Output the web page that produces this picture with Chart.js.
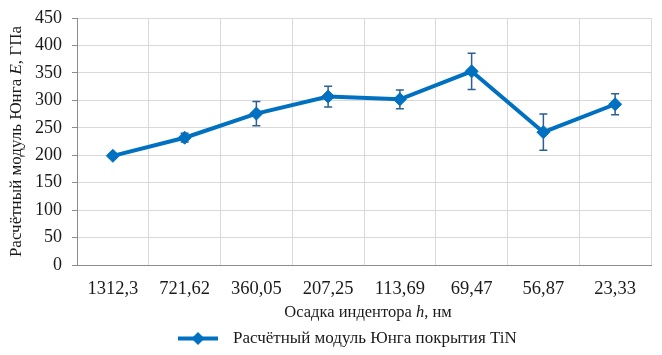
<!DOCTYPE html>
<html>
<head>
<meta charset="utf-8">
<script src="https://cdn.jsdelivr.net/npm/chart.js@4"></script>
<style>
    html, body { margin: 0; padding: 0; background: #fff; }
    #wrap { width: 662px; height: 355px; }
</style>
</head>
<body>
<div id="wrap"><canvas id="modulusChart" width="662" height="355"></canvas></div>
<script>
// --- DATA ---
const categories = ['1312,3', '721,62', '360,05', '207,25', '113,69', '69,47', '56,87', '23,33'];
const modulusValues = [199, 232, 276, 307, 302, 353, 242, 293];
const modulusErrors = [4, 8, 22, 19, 17, 33, 33, 19];
const yMin = 0, yMax = 450, yStep = 50;

const seriesLabel = 'Расчётный модуль Юнга покрытия TiN';
const xTitleParts = [['Осадка индентора ', false], ['h', true], [', нм', false]];
const yTitleParts = [['Расчётный модуль Юнга ', false], ['E', true], [', ГПа', false]];

const FONT = "'Liberation Serif', Tinos, 'Times New Roman', 'DejaVu Serif', serif";
const BLUE = '#0070c0';
const TEXT = '#1a1a1a';

function fontStr(size, italic) {
    return (italic ? 'italic ' : 'normal ') + size + 'px ' + FONT;
}

// draws text pieces (some italic) centred on cx, cy
function drawRich(ctx, parts, size, cx, cy) {
    let total = 0;
    parts.forEach(p => { ctx.font = fontStr(size, p[1]); total += ctx.measureText(p[0]).width; });
    let x = cx - total / 2;
    ctx.textBaseline = 'middle';
    ctx.textAlign = 'left';
    ctx.fillStyle = TEXT;
    parts.forEach(p => {
        ctx.font = fontStr(size, p[1]);
        ctx.fillText(p[0], x, cy);
        x += ctx.measureText(p[0]).width;
    });
}

const errorBarsPlugin = {
    id: 'errorBars',
    beforeDatasetsDraw(chart) {
        const ctx = chart.ctx;
        const xs = chart.scales.x, ys = chart.scales.y;
        ctx.save();
        ctx.strokeStyle = '#2c5f94';
        ctx.lineWidth = 1.5;
        modulusValues.forEach((v, i) => {
            const x = xs.getPixelForValue(i);
            const top = ys.getPixelForValue(v + modulusErrors[i]);
            const bot = ys.getPixelForValue(v - modulusErrors[i]);
            ctx.beginPath();
            ctx.moveTo(x, top); ctx.lineTo(x, bot);
            ctx.moveTo(x - 4, top); ctx.lineTo(x + 4, top);
            ctx.moveTo(x - 4, bot); ctx.lineTo(x + 4, bot);
            ctx.stroke();
        });
        ctx.restore();
    }
};

const labelsPlugin = {
    id: 'titlesAndLegend',
    afterDraw(chart) {
        const ctx = chart.ctx;
        const area = chart.chartArea;
        ctx.save();

        // x axis title
        drawRich(ctx, xTitleParts, 16.5, (area.left + area.right) / 2 + 4, 313);

        // y axis title
        ctx.save();
        ctx.translate(17, (area.top + area.bottom) / 2);
        ctx.rotate(-Math.PI / 2);
        drawRich(ctx, yTitleParts, 17, 0, 0);
        ctx.restore();

        // legend: line with diamond marker
        const ly = 338.5;
        const lx = 178;
        ctx.strokeStyle = BLUE;
        ctx.lineWidth = 4;
        ctx.beginPath();
        ctx.moveTo(lx, ly); ctx.lineTo(lx + 40, ly);
        ctx.stroke();
        ctx.fillStyle = BLUE;
        ctx.beginPath();
        ctx.moveTo(lx + 20, ly - 6.5); ctx.lineTo(lx + 26.5, ly);
        ctx.lineTo(lx + 20, ly + 6.5); ctx.lineTo(lx + 13.5, ly);
        ctx.closePath();
        ctx.fill();
        ctx.font = fontStr(17, false);
        ctx.fillStyle = TEXT;
        ctx.textAlign = 'left';
        ctx.textBaseline = 'middle';
        ctx.fillText(seriesLabel, lx + 55, ly);

        ctx.restore();
    }
};

function buildChart() {
    new Chart(document.getElementById('modulusChart'), {
        type: 'line',
        data: {
            labels: categories,
            datasets: [{
                label: seriesLabel,
                data: modulusValues,
                borderColor: BLUE,
                backgroundColor: BLUE,
                borderWidth: 4,
                pointStyle: 'rectRot',
                pointRadius: 6.5,
                pointBorderWidth: 1,
                pointBackgroundColor: BLUE,
                pointBorderColor: BLUE,
                tension: 0
            }]
        },
        options: {
            responsive: false,
            animation: false,
            devicePixelRatio: 1,
            layout: { padding: { top: 0, right: 11, left: 0, bottom: 0 } },
            plugins: {
                legend: { display: false },
                tooltip: { enabled: false }
            },
            scales: {
                x: {
                    offset: true,
                    grid: { offset: true, color: '#d9d9d9', lineWidth: 1, drawTicks: false },
                    border: { color: '#8c8c8c', width: 1 },
                    ticks: { color: TEXT, padding: 13, font: { family: FONT, size: 18.5 } },
                    afterFit: s => { s.height = 90; }
                },
                y: {
                    min: yMin,
                    max: yMax,
                    grid: { color: '#d9d9d9', lineWidth: 1, tickLength: 5, tickColor: '#8c8c8c' },
                    border: { color: '#8c8c8c', width: 1 },
                    ticks: { stepSize: yStep, color: TEXT, padding: 10, font: { family: FONT, size: 18, lineHeight: 0.9 } },
                    afterFit: s => { s.width = 77; }
                }
            }
        },
        plugins: [errorBarsPlugin, labelsPlugin]
    });
}

Promise.all([
    document.fonts.load("18px 'Liberation Serif'"),
    document.fonts.load("italic 18px 'Liberation Serif'")
]).then(buildChart, buildChart);
</script>
</body>
</html>
